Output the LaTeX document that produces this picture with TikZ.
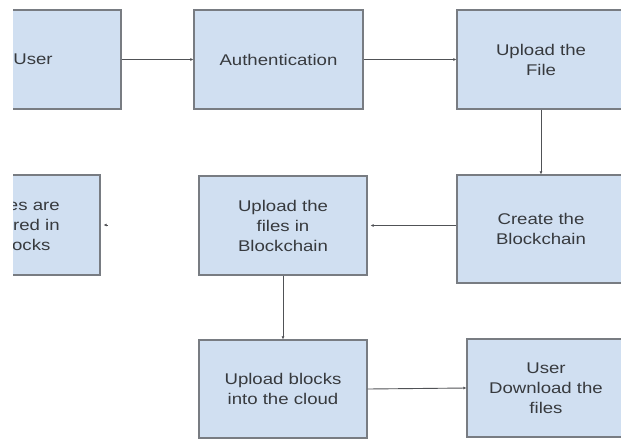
\documentclass[tikz,border=0pt]{standalone}
\usepackage{fontspec}
\setmainfont[FakeStretch=1.2]{Liberation Sans}
\usetikzlibrary{arrows.meta}
\definecolor{boxfill}{RGB}{208,223,241}
\definecolor{boxline}{RGB}{120,124,130}
\definecolor{txt}{RGB}{55,58,62}
\definecolor{conncol}{RGB}{80,82,86}
\begin{document}
\begin{tikzpicture}[x=1pt,y=-1pt,
  box/.style={draw=boxline,line width=1.3pt,fill=boxfill,inner sep=0pt,
    align=center,text=txt,font=\fontsize{15.5}{20}\selectfont},
  conn/.style={draw=conncol,line width=0.9pt,-{Latex[length=3pt,width=3pt]}}]
\useasboundingbox (0,0) rectangle (621,440);
\fill[white] (0,0) rectangle (621,440);
\begin{scope}
\clip (13,0) rectangle (621,440);
\node[box,minimum width=176pt,minimum height=99pt] (user) at (33,59.5) {User};
\node[box,minimum width=169pt,minimum height=99pt] (auth) at (278.5,59.5) {Authentication};
\node[box,minimum width=168pt,minimum height=99pt] (upfile) at (541,59.5) {Upload the\\File};
\node[box,minimum width=152pt,minimum height=100pt] (stored) at (24,225) {Files are\\stored in\\blocks};
\node[box,minimum width=168pt,minimum height=99pt] (upbc) at (283,225.5) {Upload the\\files in\\Blockchain};
\node[box,minimum width=168pt,minimum height=108pt] (create) at (541,229) {Create the\\Blockchain};
\node[box,minimum width=168pt,minimum height=98pt] (upcloud) at (283,389) {Upload blocks\\into the cloud};
\node[box,minimum width=158pt,minimum height=98pt] (download) at (546,388) {User\\Download the\\files};
\coordinate (sdot) at (108,225);
\draw[conn] (user.east) -- (auth.west);
\draw[conn] (auth.east) -- (upfile.west);
\draw[conn] (upfile.south) -- (create.north);
\draw[conn,shorten >=3pt] (create.west |- upbc.east) -- (upbc.east);
\draw[conn,shorten >=3pt] (sdot) -- (stored.east);
\draw[conn] (upbc.south) -- (upcloud.north);
\draw[conn] (upcloud.east) -- (download.west);
\end{scope}
\end{tikzpicture}
\end{document}
